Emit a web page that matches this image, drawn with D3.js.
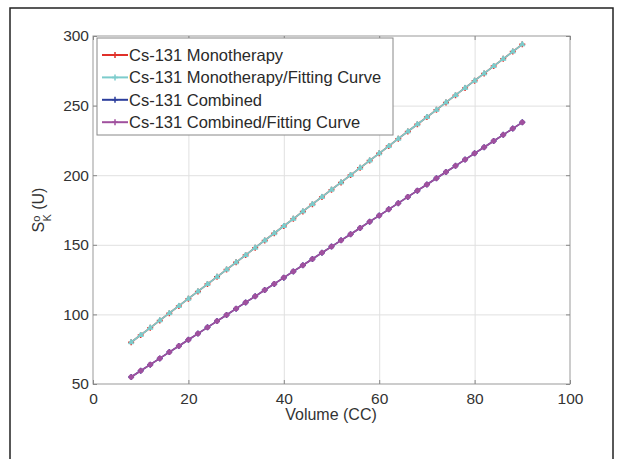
<!DOCTYPE html>
<html lang="en">
<head>
<meta charset="UTF-8">
<title>Cs-131 S°K vs volume</title>
<script src="https://d3js.org/d3.v7.min.js"></script>
<style>
html, body { margin: 0; padding: 0; background: white; }
body { font-family: 'Liberation Sans', Arial, sans-serif; }
.axis text { font-family: 'Liberation Sans', Arial, sans-serif; font-size: 15.5px; fill: #333; }
.axis path, .axis line { stroke: #888; }
.grid line { stroke: #e0e0e0; stroke-width: 1; }
.grid path { stroke: none; }
.legend-text { font-size: 16.5px; fill: #2a2a2a; }
</style>
</head>
<body>
<div id="chart"></div>
<script>

// --------------------------------------
// Data
// --------------------------------------

const volume = [8, 10, 12, 14, 16, 18, 20, 22, 24, 26, 28, 30, 32, 34, 36, 38, 40, 42, 44, 46, 48,
  50, 52, 54, 56, 58, 60, 62, 64, 66, 68, 70, 72, 74, 76, 78, 80, 82, 84, 86, 88, 90];

const monoFit = [80.0, 85.2, 90.4, 95.7, 100.9, 106.1, 111.3, 116.5, 121.8, 127.0, 132.2, 137.4,
  142.6, 147.9, 153.1, 158.3, 163.5, 168.7, 174.0, 179.2, 184.4, 189.6, 194.8, 200.1, 205.3,
  210.5, 215.7, 220.9, 226.2, 231.4, 236.6, 241.8, 247.0, 252.3, 257.5, 262.7, 267.9, 273.1,
  278.4, 283.6, 288.8, 294.0];
const mono = monoFit.slice();

const combFit = [55.0, 59.5, 63.9, 68.4, 72.9, 77.3, 81.8, 86.2, 90.7, 95.2, 99.6, 104.1, 108.6,
  113.0, 117.5, 121.9, 126.4, 130.9, 135.3, 139.8, 144.3, 148.7, 153.2, 157.6, 162.1, 166.6,
  171.0, 175.5, 179.9, 184.4, 188.9, 193.3, 197.8, 202.3, 206.7, 211.2, 215.7, 220.1, 224.6,
  229.0, 233.5, 238.0];
const comb = combFit.slice();

const xTicks = [0, 20, 40, 60, 80, 100];
const yTicks = [50, 100, 150, 200, 250, 300];

const seriesNames = ["Cs-131 Monotherapy", "Cs-131 Monotherapy/Fitting Curve",
  "Cs-131 Combined", "Cs-131 Combined/Fitting Curve"];
const seriesValues = [mono, monoFit, comb, combFit];
const seriesColors = ["#e0302a", "#7ccccc", "#2c3e9c", "#a0509e"];
const seriesMarkers = ["plus", "triangle", "plus", "circle"];

// --------------------------------------
// Size and scales
// --------------------------------------

const totalWidth = 620, totalHeight = 459;

const svg = d3.select("#chart").append("svg")
  .attr("width", totalWidth)
  .attr("height", totalHeight);

// outer frame
svg.append("rect")
  .attr("x", 10).attr("y", 8)
  .attr("width", 603).attr("height", 470)
  .attr("fill", "none")
  .attr("stroke", "#222")
  .attr("stroke-width", 1.5);

const x = d3.scaleLinear().domain([0, 100]).range([93, 570]);
const y = d3.scaleLinear().domain([50, 300]).range([384, 36]);

// --------------------------------------
// Grid and axes
// --------------------------------------

svg.append("g").attr("class", "grid")
  .attr("transform", "translate(0,384)")
  .call(d3.axisBottom(x).tickValues(xTicks.slice(1, -1)).tickSize(-348).tickFormat(""));

svg.append("g").attr("class", "grid")
  .attr("transform", "translate(93,0)")
  .call(d3.axisLeft(y).tickValues(yTicks.slice(1, -1)).tickSize(-477).tickFormat(""));

// box
svg.append("rect")
  .attr("x", x(0)).attr("y", y(300))
  .attr("width", x(100) - x(0)).attr("height", y(50) - y(300))
  .attr("fill", "none").attr("stroke", "#999");

svg.append("g").attr("class", "axis")
  .attr("transform", "translate(0,384)")
  .call(d3.axisBottom(x).tickValues(xTicks).tickSize(-4).tickPadding(9).tickSizeOuter(0))
  .call(g => g.select(".domain").remove());

svg.append("g").attr("class", "axis")
  .attr("transform", "translate(93,0)")
  .call(d3.axisLeft(y).tickValues(yTicks).tickSize(-4).tickPadding(4).tickSizeOuter(0))
  .call(g => g.select(".domain").remove());

// top/right ticks
svg.append("g").attr("class", "axis")
  .attr("transform", "translate(0,36)")
  .call(d3.axisTop(x).tickValues(xTicks).tickSize(-4).tickFormat("").tickSizeOuter(0))
  .call(g => g.select(".domain").remove());
svg.append("g").attr("class", "axis")
  .attr("transform", "translate(570,0)")
  .call(d3.axisRight(y).tickValues(yTicks).tickSize(-4).tickFormat("").tickSizeOuter(0))
  .call(g => g.select(".domain").remove());

// axis titles
svg.append("text")
  .attr("x", 331).attr("y", 420)
  .attr("text-anchor", "middle")
  .style("font-size", "16px").style("fill", "#333")
  .text("Volume (CC)");

const yl = svg.append("text")
  .attr("transform", "translate(44,210) rotate(-90)")
  .attr("text-anchor", "middle")
  .style("font-size", "16px").style("fill", "#333");
yl.append("tspan").text("S");
yl.append("tspan").attr("dy", -4).style("font-size", "11px").text("o");
yl.append("tspan").attr("dx", -6).attr("dy", 11).style("font-size", "11px").text("K");
yl.append("tspan").attr("dy", -7).text(" (U)");

// --------------------------------------
// Lines and markers
// --------------------------------------

const line = d3.line().x((d, i) => x(volume[i])).y(d => y(d));

function marker(g, type, color, px, py) {
  if (type === "plus") {
    g.append("path").attr("d", `M${px - 3},${py}H${px + 3}M${px},${py - 3}V${py + 3}`)
      .attr("stroke", color).attr("stroke-width", 1.5);
  } else if (type === "triangle") {
    g.append("path").attr("d", `M${px},${py - 3}L${px + 2.6},${py + 1.5}L${px - 2.6},${py + 1.5}Z`)
      .attr("fill", color).attr("stroke", color);
  } else {
    g.append("circle").attr("cx", px).attr("cy", py).attr("r", 2.3)
      .attr("fill", color).attr("stroke", color);
  }
}

seriesValues.forEach((vals, s) => {
  const g = svg.append("g");
  g.append("path").datum(vals)
    .attr("d", line)
    .attr("fill", "none")
    .attr("stroke", seriesColors[s])
    .attr("stroke-width", 1.6);
  vals.forEach((v, i) => marker(g, seriesMarkers[s], seriesColors[s], x(volume[i]), y(v)));
});

// --------------------------------------
// Legend
// --------------------------------------

const legend = svg.append("g").attr("transform", "translate(97,38)");
legend.append("rect")
  .attr("width", 296).attr("height", 97)
  .attr("fill", "white").attr("stroke", "#888");

seriesNames.forEach((name, s) => {
  const ly = 17 + s * 22.4;
  legend.append("line")
    .attr("x1", 5).attr("x2", 31).attr("y1", ly).attr("y2", ly)
    .attr("stroke", seriesColors[s]).attr("stroke-width", 2);
  marker(legend, "plus", seriesColors[s], 18, ly);
  legend.append("text").attr("class", "legend-text")
    .attr("x", 32).attr("y", ly + 6)
    .text(name);
});

</script>
</body>
</html>
